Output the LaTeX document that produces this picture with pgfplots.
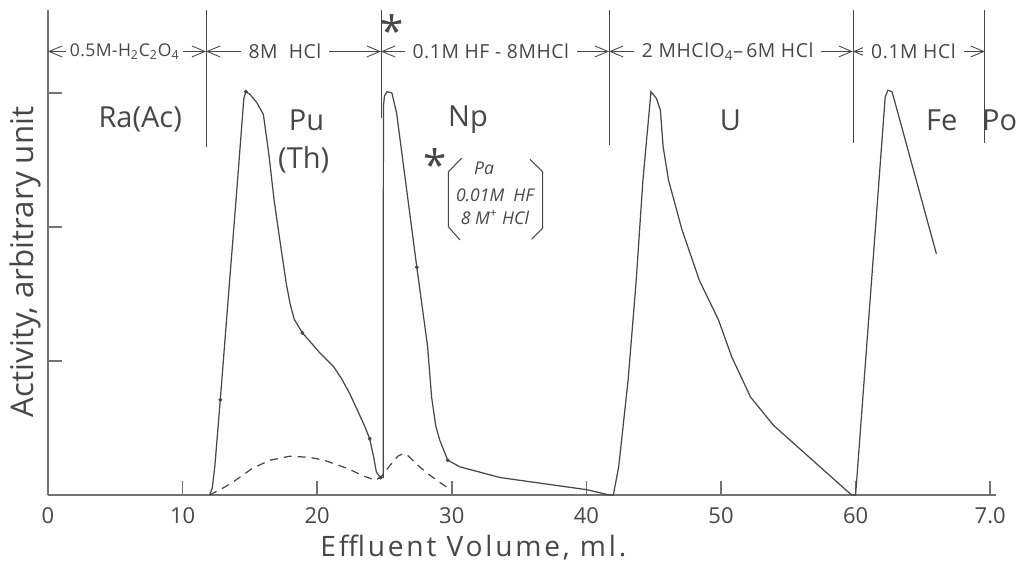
\documentclass[border=0pt]{standalone}
\usepackage{pgfplots}
\pgfplotsset{compat=1.18}
\usepackage{fontspec}
\setmainfont{Open Sans}
\usetikzlibrary{arrows.meta}
\definecolor{ink}{gray}{0.28}
\definecolor{axisink}{gray}{0.45}
\tikzset{sep/.style={ink, line width=0.45pt},
  arr/.style={ink, line width=0.5pt, {Straight Barb[length=2.6mm,width=2.2mm]}-{Straight Barb[length=2.6mm,width=2.2mm]}},
  arrtext/.style={fill=white, inner xsep=1.6mm, inner ysep=1pt, text=ink, font={\fontsize{11}{11.5}\selectfont\addfontfeature{LetterSpace=3}}},
  elem/.style={text=ink, font={\fontsize{16.5}{16.5}\selectfont}, inner sep=0pt},
  patext/.style={text=ink, font={\itshape\fontsize{10}{10}\selectfont}, inner sep=0pt}}
\begin{document}
\begin{tikzpicture}
\begin{axis}[
  x=2.692mm, y=26.8mm,
  xmin=0, xmax=70.4, ymin=0, ymax=3.62,
  axis lines=left,
  axis line style={-, line width=1.3pt, axisink},
  xtick={0,10,20,30,40,50,60,70},
  xticklabels={0,10,20,30,40,50,60,7.0},
  ytick={1,2,3}, yticklabels={},
  tick align=inside, major tick length=2.8mm,
  tick style={line width=0.9pt, axisink},
  xticklabel style={font={\fontsize{12.5}{12.5}\selectfont}, text=ink, yshift=-1.2mm},
  clip=false,
]
% solid elution curve
\addplot[ink, line width=0.7pt] coordinates {
 (12.0,0) (12.2,0.05) (12.4,0.22) (12.8,0.71) (13.4,1.48) (14.0,2.24) (14.55,2.96) (14.7,3.01)
 (15.0,2.99) (15.5,2.93) (16.0,2.84) (16.4,2.55) (16.8,2.20) (17.3,1.85) (17.7,1.58)
 (18.0,1.42) (18.3,1.31) (18.9,1.21) (19.6,1.13) (20.2,1.06) (21.2,0.96) (21.8,0.87)
 (22.4,0.76) (23.0,0.63) (23.5,0.52) (23.9,0.42) (24.2,0.28) (24.4,0.17) (24.7,0.13)
 (24.9,0.13) (24.92,2.9) (25.0,2.98) (25.2,3.01) (25.55,3.0) (25.9,2.85) (27.4,1.70)
 (28.2,1.11) (28.5,0.73) (28.8,0.52) (29.1,0.41) (29.7,0.26) (30.6,0.21) (33.6,0.13)
 (40.0,0.04) (41.7,0.0)
 (42.0,0.0) (42.4,0.21) (43.1,0.86) (43.7,1.60) (44.2,2.35) (44.8,3.01) (45.2,2.96)
 (45.5,2.87) (45.7,2.60) (46.1,2.35) (47.1,1.98) (48.4,1.60) (49.8,1.31) (50.8,1.03)
 (52.2,0.73) (53.9,0.52) (59.7,0.0)
 (60.0,0.0) (62.2,2.97) (62.4,3.02) (62.7,3.01) (62.9,2.94) (66.0,1.80)
};
% dashed (Th) curve
\addplot[ink, line width=0.7pt, dash pattern=on 1.6mm off 1.2mm] coordinates {
 (12.0,0) (12.8,0.04) (13.8,0.10) (15.2,0.20) (16.5,0.26) (18.0,0.29) (19.5,0.28)
 (20.5,0.26) (22.2,0.20) (23.5,0.14) (24.3,0.11) (24.7,0.13) (25.4,0.22) (26.0,0.29)
 (26.4,0.31) (26.8,0.29) (27.6,0.21) (28.6,0.13) (29.6,0.06)
};
% data points
\addplot[ink, only marks, mark=*, mark size=0.9pt] coordinates {
 (12.8,0.71) (14.7,3.01) (18.9,1.21) (23.9,0.42) (24.7,0.13) (27.4,1.70) (29.7,0.26)
};
% eluent change separators
\draw[sep] (axis cs:11.74,2.60) -- (axis cs:11.74,3.62);
\draw[sep] (axis cs:24.74,2.81) -- (axis cs:24.74,3.62);
\draw[sep] (axis cs:41.68,2.61) -- (axis cs:41.68,3.62);
\draw[sep] (axis cs:59.80,2.63) -- (axis cs:59.80,3.62);
\draw[sep] (axis cs:69.60,2.63) -- (axis cs:69.60,3.62);
% eluent arrows
\draw[arr] (axis cs:0,3.31) -- (axis cs:11.74,3.31);
\draw[arr] (axis cs:11.74,3.31) -- (axis cs:24.74,3.31);
\draw[arr] (axis cs:24.74,3.31) -- (axis cs:41.68,3.31);
\draw[arr] (axis cs:41.68,3.31) -- (axis cs:59.80,3.31);
\draw[arr] (axis cs:59.80,3.31) -- (axis cs:69.60,3.31);
\node[arrtext, inner xsep=0.8mm, font={\fontsize{10}{10.5}\selectfont\addfontfeature{LetterSpace=2}}] at (axis cs:5.7,3.31) {0.5M-H\textsubscript{2}C\textsubscript{2}O\textsubscript{4}};
\node[arrtext] at (axis cs:17.6,3.31) {8M\ \ HCl};
\node[arrtext] at (axis cs:32.9,3.31) {0.1M HF - 8MHCl};
\node[arrtext] at (axis cs:50.5,3.31) {2 MHClO\textsubscript{4}--\,6M HCl};
\node[arrtext] at (axis cs:64.3,3.31) {0.1M HCl};
% element labels
\node[elem] at (axis cs:6.85,2.80) {Ra(Ac)};
\node[elem] at (axis cs:19.2,2.80) {Pu};
\node[elem] at (axis cs:19.0,2.50) {(Th)};
\node[elem] at (axis cs:31.2,2.80) {Np};
\node[elem] at (axis cs:50.7,2.80) {U};
\node[elem] at (axis cs:66.4,2.80) {Fe};
\node[elem] at (axis cs:70.7,2.80) {Po};
% asterisks
\node[text=ink, font={\fontsize{24}{24}\selectfont}, inner sep=0pt] at (axis cs:25.55,3.47) {*};
\node[text=ink, font={\fontsize{24}{24}\selectfont}, inner sep=0pt] at (axis cs:28.75,2.47) {*};
% Pa annotation
\draw[ink, line width=0.6pt] (axis cs:30.73,2.513) -- (axis cs:29.74,2.412) -- (axis cs:29.74,2.002) -- (axis cs:30.61,1.903);
\draw[ink, line width=0.6pt] (axis cs:35.81,2.505) -- (axis cs:36.75,2.412) -- (axis cs:36.75,1.990) -- (axis cs:35.93,1.908);
\node[patext] at (axis cs:32.4,2.44) {Pa};
\node[patext] at (axis cs:33.2,2.24) {0.01M\ \ HF};
\node[patext] at (axis cs:33.2,2.07) {8 M\textsuperscript{+} HCl};
% axis titles
\node[text=ink, font={\fontsize{17.8}{17.8}\selectfont}, rotate=90] at (axis cs:-1.71,1.74) {Activity, arbitrary unit};
\node[text=ink, font={\fontsize{16}{16}\selectfont\addfontfeature{LetterSpace=10}}] at (axis cs:31.6,-0.39) {Effluent Volume, ml.};
\end{axis}
\pgfresetboundingbox
\path[use as bounding box] (-9.6mm,-13.6mm) rectangle (193.8mm,99mm);
\end{tikzpicture}
\end{document}
